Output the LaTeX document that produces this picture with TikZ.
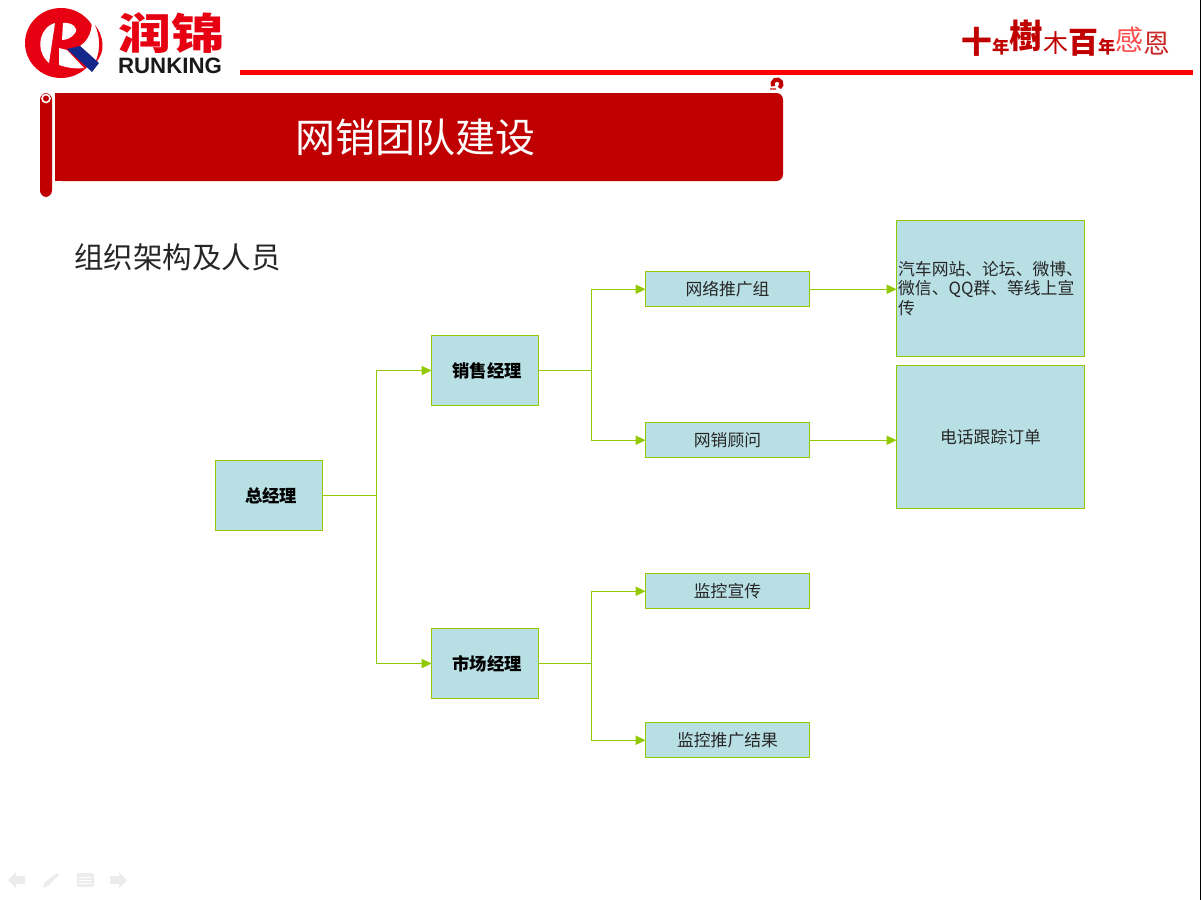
\documentclass[tikz,border=0pt]{standalone}
\usepackage{fontspec}
\setmainfont{Noto Sans CJK SC}
\newfontfamily\arialfont{Liberation Sans}
\usetikzlibrary{arrows.meta}
\usetikzlibrary{positioning}
\definecolor{boxfill}{RGB}{184,223,228}
\definecolor{boxline}{RGB}{145,200,0}
\definecolor{bannerred}{RGB}{192,0,0}
\definecolor{logored}{RGB}{230,0,18}
\definecolor{logoblue}{RGB}{20,40,140}
\definecolor{navgray}{RGB}{236,236,236}
\newcommand{\sloganch}[3]{\raisebox{#2pt}{\fontsize{#1}{#1}\selectfont #3}}
\tikzset{
  bigbox/.style={draw=boxline,fill=boxfill,line width=0.75pt,inner sep=0pt,outer sep=0pt,font=\fontsize{12.6}{14.9}\selectfont,text=black!85},
  headbox/.style={bigbox,font=\fontsize{13}{15}\bfseries\selectfont,text=black,minimum width=80.25pt,minimum height=52.5pt},
  midbox/.style={bigbox,minimum width=123pt,minimum height=26.25pt},
  link/.style={draw=boxline,line width=0.75pt,-{Triangle[length=7.5pt,width=7pt]}},
  nav/.style={fill=navgray}
}
\begin{document}
\begin{tikzpicture}[x=0.75pt,y=-0.75pt]
\useasboundingbox (0,0) rectangle (1201,900);
\fill[black](1200,0) rectangle (1201,900);

%logo
\fill[logored](61,43) ellipse (36 and 35);
\fill[white](90,6) .. controls (94,24) and (92,38) .. (80,46) -- (99,63) -- (106,50) -- (106,6) -- cycle;
\fill[logored](95,25) .. controls (103,35) and (107,52) .. (95,63) .. controls (101,50) and (100,36) .. (95,25);
\fill[white](55,23) .. controls (40,27) and (34,50) .. (49,63) -- cycle;
\fill[white](63,23) .. controls (72,22) and (79,28) .. (75,33) .. controls (72,38) and (66,40) .. (62,40) -- cycle;
\fill[white](59,48) -- (67,50) -- (84,68) .. controls (76,69) and (68,68) .. (59,65) -- cycle;
\fill[logoblue](67,49) -- (80,46) -- (99,63) -- (92,72) -- cycle;
\node[logored,xscale=1.24,transform shape,font=\fontsize{32}{32}\bfseries\selectfont] (logocn) at (171,33) {润锦};
\node[black!90,font=\fontsize{16.7}{17}\arialfont\bfseries\selectfont] (logoen) at (170,65.5) {RUNKING};

%slogan
\node[bannerred,inner sep=0pt] (slogan) at (1066,38) {\bfseries\sloganch{23}{0}{十}\sloganch{13}{0}{年}\sloganch{25}{4}{樹}\mdseries\sloganch{18.7}{1}{木}\bfseries\sloganch{22.5}{0}{百}\sloganch{13}{0}{年}\mdseries\sloganch{21}{2}{\textcolor{red!70!white}{感}}\sloganch{20}{0}{\textcolor{bannerred!85!white}{恩}}};
\fill[red](240,70) rectangle (1193,74.5);

%banner
\fill[bannerred,rounded corners=5pt](55,93) -- (783,93) -- (783,181) -- (55,181) -- cycle;
\fill[bannerred](55,93) rectangle (60,181);
\fill[bannerred,rounded corners=5pt](40,93) rectangle (52,197);
\draw[white,line width=1.2pt](46,98.5) circle (4);
\fill[white](53,93) rectangle (55,104);
\draw[bannerred,line width=3pt](773.1,86.25) arc (150:420:4.5);
\fill[bannerred!60!white](770,88) rectangle (776,90);
\node[white,font=\fontsize{30}{30}\selectfont] (title) at (415.5,137) {网销团队建设};
\node[black!85,font=\fontsize{22.1}{22}\selectfont] (subtitle) at (177.5,257) {组织架构及人员};

%boxes
\node[headbox] (gm) at (269,495.5) {\hspace{3pt}总经理};
\node[headbox] (sales) at (485,370.5) {\hspace{3pt}销售经理};
\node[headbox] (market) at (485,663.5) {\hspace{3pt}市场经理};
\node[midbox] (promo) at (727.5,289.25) {网络推广组};
\node[midbox] (advisor) at (727.5,440.25) {网销顾问};
\node[midbox] (watch) at (727.5,591.25) {监控宣传};
\node[midbox] (result) at (727.5,740.25) {监控推广结果};
\node[bigbox,minimum width=141pt,minimum height=102pt,align=left,text width=138.5pt] (channels) at (990.5,288.5) {汽车网站、论坛、微博、\\微信、QQ群、等线上宣\\传};
\node[bigbox,minimum width=141pt,minimum height=107.25pt] (phone) at (990.5,437) {电话跟踪订单};

%links
\coordinate (busa) at (376.5,495.5);
\coordinate (busb) at (591.5,370.5);
\coordinate (busc) at (591.5,663.5);
\draw[link](gm.east) -- (busa) |- (sales.west);
\draw[link](gm.east) -- (busa) |- (market.west);
\draw[link](sales.east) -- (busb) |- (promo.west);
\draw[link](sales.east) -- (busb) |- (advisor.west);
\draw[link](market.east) -- (busc) |- (watch.west);
\draw[link](market.east) -- (busc) |- (result.west);
\draw[link](promo.east) -- (promo.east -| channels.west);
\draw[link](advisor.east) -- (advisor.east -| phone.west);

%nav icons
\fill[nav](8,880) -- (16,872) -- (16,876) -- (25,876) -- (25,884) -- (16,884) -- (16,888) -- cycle;
\fill[nav](43,888) -- (45,882) -- (57,873) -- (59,875) -- (48,886) -- cycle;
\fill[nav,rounded corners=1pt](77,873) rectangle (94,887);
\draw[white,line width=0.6pt](79,877) -- (92,877) (79,880) -- (92,880) (79,883) -- (92,883);
\fill[nav](127,880) -- (119,872) -- (119,876) -- (110,876) -- (110,884) -- (119,884) -- (119,888) -- cycle;
\end{tikzpicture}
\end{document}
